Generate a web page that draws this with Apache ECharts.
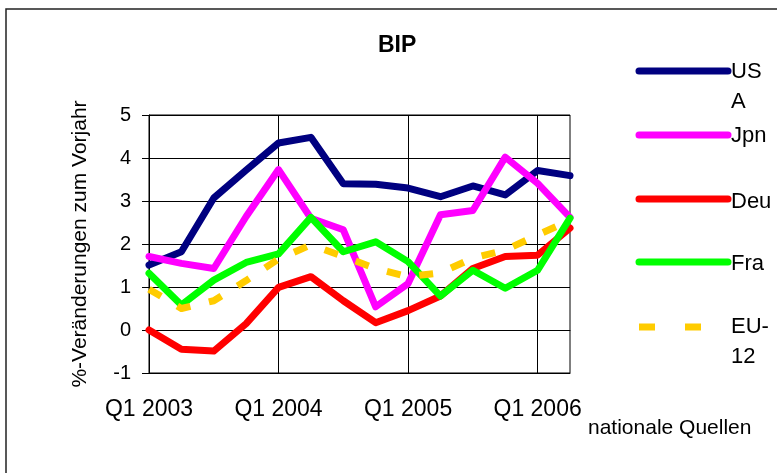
<!DOCTYPE html>
<html lang="de">
<head>
    <meta charset="UTF-8">
    <title>BIP</title>
    <script src="https://cdn.jsdelivr.net/npm/echarts@6/dist/echarts.min.js"></script>
    <style>
        * { margin: 0; padding: 0; }
        body { background: #fff; }
        #bip { width: 777px; height: 473px; }
    </style>
</head>
<body>
<div id="bip"></div>
<script type="text/javascript">
    // Quartale Q1 2003 .. Q2 2006
    var quartale = ['Q1 2003', 'Q2 2003', 'Q3 2003', 'Q4 2003',
                    'Q1 2004', 'Q2 2004', 'Q3 2004', 'Q4 2004',
                    'Q1 2005', 'Q2 2005', 'Q3 2005', 'Q4 2005',
                    'Q1 2006', 'Q2 2006'];
    var usa  = [1.51, 1.82, 3.07, 3.72, 4.35, 4.48, 3.40, 3.39, 3.30, 3.10, 3.35, 3.14, 3.71, 3.59];
    var jpn  = [1.71, 1.55, 1.43, 2.64, 3.73, 2.60, 2.33, 0.54, 1.08, 2.68, 2.78, 4.02, 3.41, 2.62];
    var deu  = [0.00, -0.45, -0.49, 0.15, 0.99, 1.24, 0.68, 0.17, 0.45, 0.79, 1.43, 1.71, 1.74, 2.37];
    var fra  = [1.32, 0.58, 1.16, 1.57, 1.77, 2.62, 1.82, 2.05, 1.59, 0.79, 1.39, 0.97, 1.39, 2.60];
    var eu12 = [0.95, 0.50, 0.68, 1.15, 1.65, 1.98, 1.71, 1.43, 1.24, 1.33, 1.67, 1.86, 2.21, 2.55];

    var schrift = "'Liberation Sans', Arial, sans-serif";

    var laender = [
        { name: 'USA',   text: 'US\nA',  data: usa,  color: '#000080', y: 71,  ty: 57 },
        { name: 'Jpn',   text: 'Jpn',    data: jpn,  color: '#ff00ff', y: 135, ty: 121 },
        { name: 'Deu',   text: 'Deu',    data: deu,  color: '#ff0000', y: 199, ty: 187 },
        { name: 'Fra',   text: 'Fra',    data: fra,  color: '#00ff00', y: 262, ty: 249 },
        { name: 'EU-12', text: 'EU-\n12', data: eu12, color: '#ffcc00', y: 327, ty: 312, dash: true }
    ];

    var serien = [];
    var grafik = [{
        type: 'rect',
        shape: { x: 6, y: 9, width: 800, height: 500 },
        style: { fill: 'none', stroke: '#222', lineWidth: 1.5 },
        silent: true
    }, {
        type: 'text',
        style: { text: 'nationale Quellen', x: 588, y: 418, font: '21px ' + schrift, fill: '#000' }
    }];

    for (var i = 0; i < laender.length; i++) {
        var l = laender[i];
        serien.push({
            name: l.name,
            type: 'line',
            data: l.data,
            symbol: 'none',
            animation: false,
            lineStyle: {
                color: l.color,
                width: 7,
                type: l.dash ? [14, 19] : 'solid',
                cap: l.dash ? 'butt' : 'round',
                join: 'round'
            }
        });
        // Legende rechts, von Hand gesetzt wegen Zeilenumbruch
        grafik.push({
            type: 'line',
            shape: { x1: 639, y1: l.y, x2: 728, y2: l.y },
            style: {
                stroke: l.color,
                lineWidth: 7,
                lineCap: l.dash ? 'butt' : 'round',
                lineDash: l.dash ? [16, 30] : null
            }
        });
        grafik.push({
            type: 'text',
            style: { text: l.text, x: 731, y: l.ty, font: '22px ' + schrift, fill: '#000', lineHeight: 30 }
        });
    }

    var chart = echarts.init(document.getElementById('bip'));
    chart.setOption({
        backgroundColor: '#fff',
        animation: false,
        title: {
            text: 'BIP',
            left: 373,
            top: 29,
            textStyle: { fontFamily: schrift, fontSize: 23, fontWeight: 'bold', color: '#000' }
        },
        grid: {
            left: 149, top: 115, width: 421, height: 258,
            show: true, borderColor: '#000', borderWidth: 1
        },
        xAxis: [{
            type: 'category',
            data: quartale,
            boundaryGap: false,
            position: 'bottom',
            axisLine: { onZero: false, lineStyle: { color: '#000', width: 1 } },
            axisTick: { show: false },
            axisLabel: { interval: 3, margin: 25, fontFamily: schrift, fontSize: 23, color: '#000' },
            splitLine: { show: true, interval: 3, lineStyle: { color: '#000', width: 1 } }
        }, {
            type: 'category',
            data: quartale,
            boundaryGap: false,
            position: 'top',
            axisLine: { onZero: true, lineStyle: { color: '#000', width: 1 } },
            axisTick: { show: true, inside: true, interval: 3, length: 7, lineStyle: { color: '#000' } },
            axisLabel: { show: false },
            splitLine: { show: false }
        }],
        yAxis: {
            type: 'value',
            min: -1, max: 5, interval: 1,
            name: '%-Veränderungen zum Vorjahr',
            nameLocation: 'middle',
            nameGap: 58,
            nameTextStyle: { fontFamily: schrift, fontSize: 21, color: '#000' },
            axisLine: { show: true, lineStyle: { color: '#000', width: 1 } },
            axisTick: { show: true, length: 7, lineStyle: { color: '#000' } },
            axisLabel: { margin: 18, fontFamily: schrift, fontSize: 20, color: '#000' },
            splitLine: { show: true, lineStyle: { color: '#000', width: 1 } }
        },
        series: serien,
        graphic: grafik
    });
</script>
</body>
</html>
